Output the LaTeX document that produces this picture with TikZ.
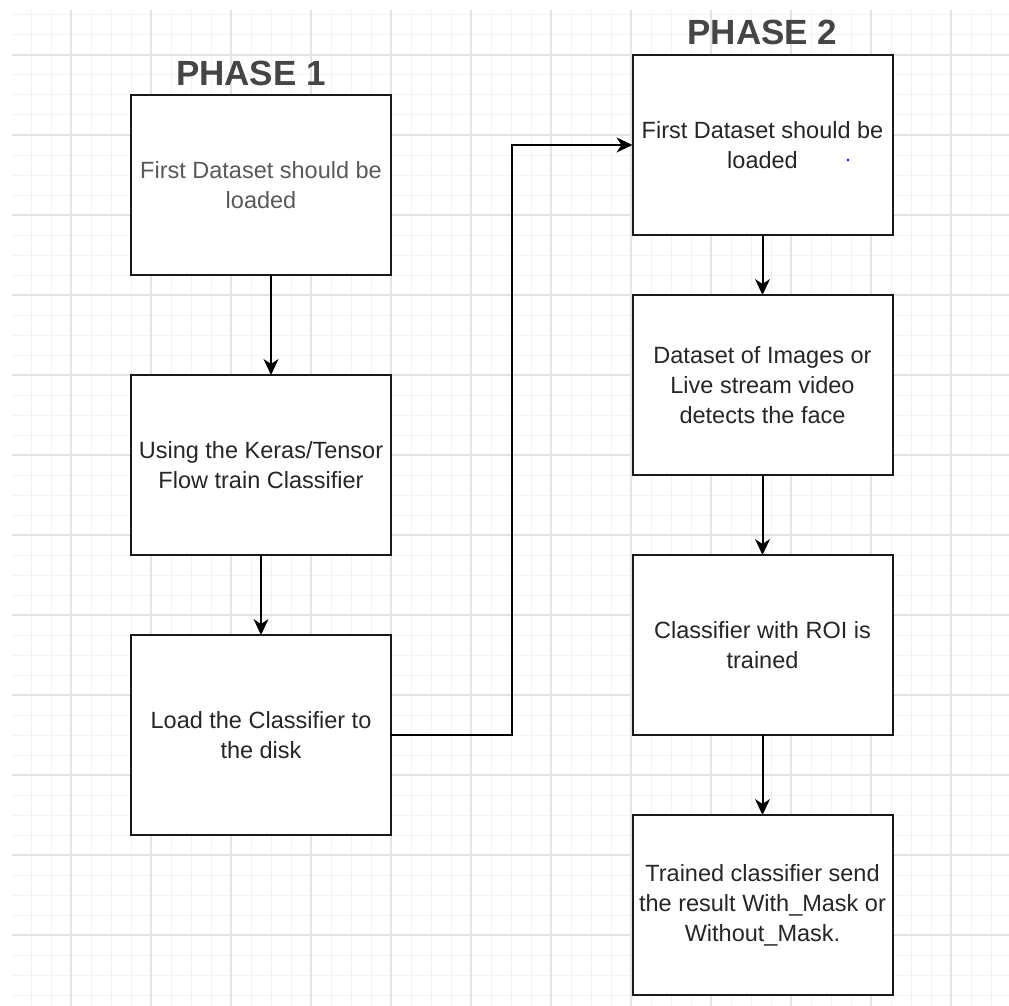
\documentclass[tikz,border=0pt]{standalone}
\usepackage{fontspec}
\setmainfont{Liberation Sans}
\usetikzlibrary{arrows.meta, positioning, calc}

\begin{document}
\begin{tikzpicture}[
    x=1pt, y=1pt,
    node distance=80pt,
    box/.style={rectangle, draw=black!90, line width=2pt, outer sep=0pt, fill=white, align=center, minimum width=260pt, minimum height=180pt, text=black!85, font=\fontsize{23.5}{30}\selectfont},
    phase/.style={font=\bfseries\fontsize{35}{35}\selectfont, text=black!73, inner sep=0pt},
    arrow/.style={line width=2pt, -{Stealth[length=16pt, width=15pt, inset=5pt]}},
    minorgrid/.style={draw=black!5, line width=1pt},
    majorgrid/.style={draw=black!11, line width=1.2pt}
]
\useasboundingbox (0,0) rectangle (1009,-1006);
\fill[white] (0,0) rectangle (1009,-1006);

% 背景网格
\begin{scope}[shift={(11,-15)}]
  \draw[minorgrid, step=20pt] (1,5) grid (998,-991);
\end{scope}
\begin{scope}[shift={(71,-55)}]
  \draw[majorgrid, step=80pt] (-59,45) grid (938,-951);
\end{scope}

% 第一阶段(左列)
\node[box, text=black!65] (load1) at (261,-185) {First Dataset should be\\loaded};
\node[box, below=100pt of load1] (train) {Using the Keras/Tensor\\Flow train Classifier};
\node[box, below=of train, minimum height=200pt] (save) {Load the Classifier to\\the disk};

% 第二阶段(右列)
\node[box] (load2) at (762.5,-145) {First Dataset should be\\loaded};
\node[box, below=60pt of load2] (detect) {Dataset of Images or\\Live stream video\\detects the face};
\node[box, below=of detect] (roi) {Classifier with ROI is\\trained};
\node[box, below=of roi] (result) {Trained classifier send\\the result With\_Mask or\\Without\_Mask.};

% 标题
\node[phase, above=9pt of load1, xshift=-10pt] (title1) {PHASE 1};
\node[phase, above=10pt of load2] (title2) {PHASE 2};

% 箭头
\draw[arrow] ([xshift=10pt]load1.south) -- ([xshift=10pt]train.north);
\draw[arrow] (train) -- (save);
\coordinate (bend) at ($(save.east)!0.5!(load2.west)$);
\draw[arrow] (save.east) -| (bend) |- (load2.west);
\draw[arrow] (load2) -- (detect);
\draw[arrow] (detect) -- (roi);
\draw[arrow] (roi) -- (result);

% 小蓝点
\fill[blue] (848,-160) circle (1.3);

\end{tikzpicture}
\end{document}
